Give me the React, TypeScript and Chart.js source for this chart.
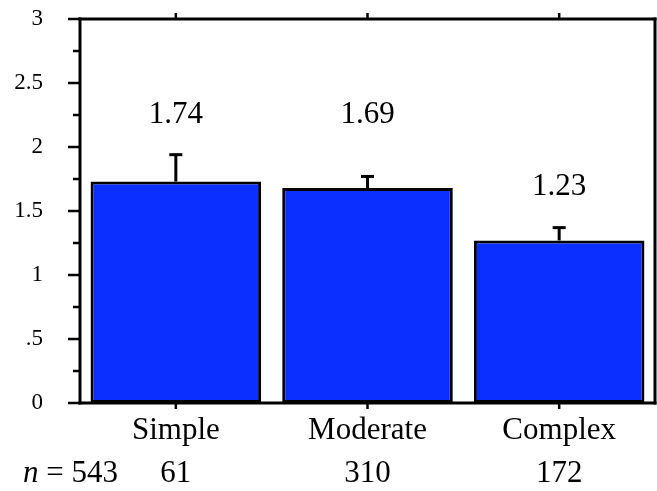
import React, { useEffect, useRef } from "react";
import { Chart, registerables } from "chart.js";

Chart.register(...registerables);

const categories = ["Simple", "Moderate", "Complex"];
const meanValues = [1.73, 1.68, 1.27];
const errorUpper = [1.94, 1.77, 1.37];
const valueLabels = ["1.74", "1.69", "1.23"];
const labelLevels = [2.25, 2.25, 1.69];
const sampleSizes = ["61", "310", "172"];
const totalN = "543";

const FONT = "'Liberation Serif', 'Times New Roman', serif";

function fmtTick(v: number): string {
  if (Math.abs(v * 2 - Math.round(v * 2)) > 1e-9) return "";
  if (v > 0 && v < 1) return String(v).replace(/^0/, "");
  return String(v);
}

const overlay = {
  id: "overlay",
  afterDatasetsDraw(chart: any) {
    const ctx = chart.ctx;
    const xs = chart.scales.x;
    const ys = chart.scales.y;
    const { left, right, top, bottom } = chart.chartArea;
    const line = (x1: number, y1: number, x2: number, y2: number) => {
      ctx.beginPath();
      ctx.moveTo(x1, y1);
      ctx.lineTo(x2, y2);
      ctx.stroke();
    };
    ctx.save();
    ctx.strokeStyle = "#000";
    ctx.lineCap = "butt";

    // error bars (upper half)
    ctx.lineWidth = 3;
    meanValues.forEach((v, i) => {
      const cx = xs.getPixelForValue(i);
      const y0 = ys.getPixelForValue(v);
      const y1 = ys.getPixelForValue(errorUpper[i]);
      line(cx, y0, cx, y1);
      line(cx - 6.5, y1, cx + 6.5, y1);
    });

    // frame
    ctx.lineWidth = 3;
    line(left, top - 1.5, left, bottom + 1.5);
    line(left - 1.5, top, right + 1.5, top);
    line(left - 1.5, bottom, right + 1.5, bottom);
    line(right, top - 1.5, right, bottom + 1.5);

    // y ticks
    ctx.lineWidth = 2.5;
    for (let k = 0; k <= 12; k++) {
      const v = k * 0.25;
      const py = ys.getPixelForValue(v);
      const major = k % 2 === 0;
      line(left - (major ? 12 : 7), py, left, py);
    }

    // x ticks top & bottom at category centers
    categories.forEach((_, i) => {
      const cx = xs.getPixelForValue(i);
      line(cx, top, cx, top - 6);
      line(cx, bottom, cx, bottom + 6);
    });

    // value labels
    ctx.fillStyle = "#000";
    ctx.font = `31px ${FONT}`;
    ctx.textAlign = "center";
    ctx.textBaseline = "middle";
    valueLabels.forEach((t, i) => {
      ctx.fillText(t, xs.getPixelForValue(i), ys.getPixelForValue(labelLevels[i]));
    });

    // n row
    const ny = bottom + 71;
    sampleSizes.forEach((t, i) => {
      ctx.fillText(t, xs.getPixelForValue(i), ny);
    });
    ctx.textAlign = "left";
    ctx.font = `italic 31px ${FONT}`;
    const nx = 23;
    ctx.fillText("n", nx, ny);
    const w = ctx.measureText("n").width;
    ctx.font = `31px ${FONT}`;
    ctx.fillText(" = " + totalN, nx + w, ny);

    ctx.restore();
  },
};

export default function App() {
  const ref = useRef<HTMLCanvasElement | null>(null);
  useEffect(() => {
    if (!ref.current) return;
    const chart = new Chart(ref.current, {
      type: "bar",
      data: {
        labels: categories,
        datasets: [
          {
            data: meanValues,
            backgroundColor: "#0B2FFF",
            borderColor: "#000",
            borderWidth: 3,
            borderSkipped: false,
            barPercentage: 0.89,
            categoryPercentage: 1,
          },
        ],
      },
      options: {
        responsive: false,
        maintainAspectRatio: false,
        devicePixelRatio: 1,
        animation: false,
        layout: { autoPadding: false, padding: { top: 19, right: 2, left: 0, bottom: 0 } },
        plugins: { legend: { display: false }, tooltip: { enabled: false } },
        scales: {
          x: {
            type: "category",
            offset: true,
            grid: { display: false, drawTicks: false },
            border: { display: false },
            ticks: {
              font: { family: FONT, size: 31 },
              color: "#000",
              padding: 9,
              maxRotation: 0,
              autoSkip: false,
            },
            afterFit: (s: any) => {
              s.height = 88;
              s.paddingLeft = 0;
              s.paddingRight = 0;
            },
          },
          y: {
            min: 0,
            max: 3,
            grid: { display: false, drawTicks: false },
            border: { display: false },
            ticks: {
              stepSize: 0.25,
              autoSkip: false,
              callback: (v: any) => fmtTick(Number(v)),
              font: { family: FONT, size: 23 },
              color: "#000",
              padding: 37,
            },
            afterFit: (s: any) => {
              s.width = 80;
              s.paddingTop = 0;
              s.paddingBottom = 0;
            },
          },
        },
      },
      plugins: [overlay],
    } as any);
    return () => chart.destroy();
  }, []);
  return (
    <div style={{ position: "fixed", left: 0, top: 0, width: 657, height: 491, background: "#fff" }}>
      <canvas ref={ref} width={657} height={491} style={{ display: "block", width: 657, height: 491 }} />
    </div>
  );
}
